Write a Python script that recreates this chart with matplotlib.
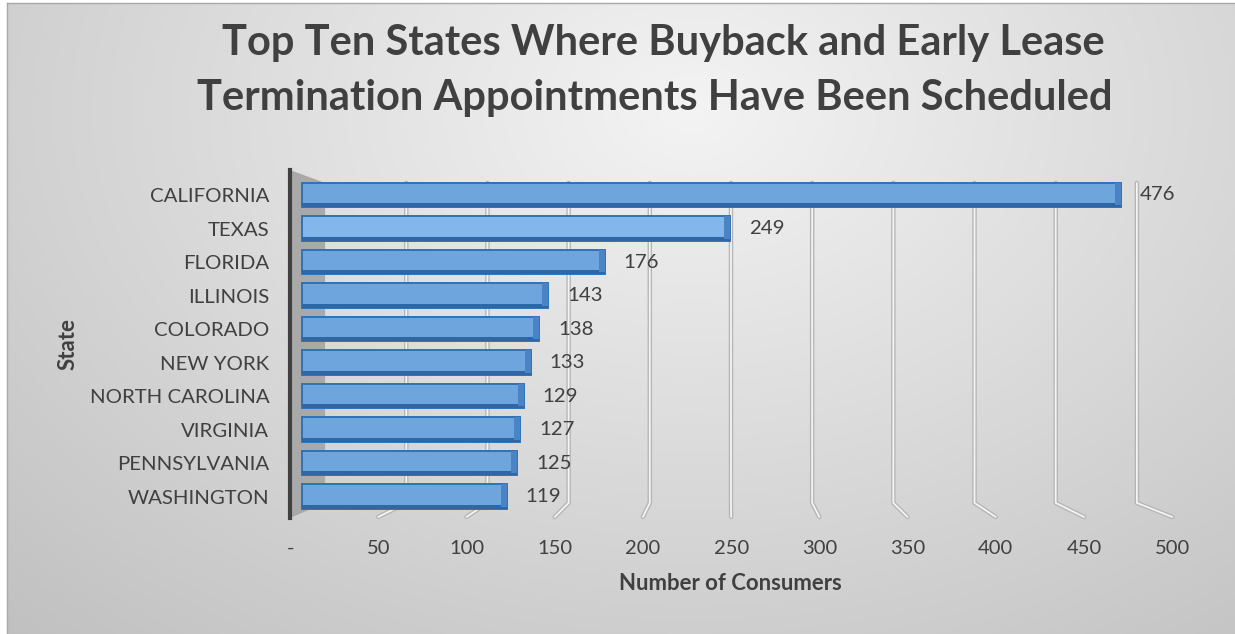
import numpy as np
import matplotlib
matplotlib.use("Agg")
import matplotlib.pyplot as plt
from matplotlib.patches import Rectangle, Polygon

plt.rcParams['font.family'] = ['Lato', 'DejaVu Sans']

states = ["CALIFORNIA", "TEXAS", "FLORIDA", "ILLINOIS", "COLORADO", "NEW YORK",
          "NORTH CAROLINA", "VIRGINIA", "PENNSYLVANIA", "WASHINGTON"]
consumers = [476, 249, 176, 143, 138, 133, 129, 127, 125, 119]
x_ticks = [0, 50, 100, 150, 200, 250, 300, 350, 400, 450, 500]
x_tick_labels = ["-", "50", "100", "150", "200", "250", "300", "350", "400", "450", "500"]
title_lines = ["Top Ten States Where Buyback and Early Lease",
               "Termination Appointments Have Been Scheduled"]

txt = "#404040"
W, H = 1235, 634

fig = plt.figure(figsize=(W / 100, H / 100), dpi=100)

# background: radial grey gradient inside a thin border
bg = fig.add_axes([0, 0, 1, 1], zorder=-5)
yy, xx = np.mgrid[0:H, 0:W]
d = np.sqrt(((xx - 690) / 900.0) ** 2 + ((yy - 110) / 640.0) ** 2)
val = np.clip(0.955 - 0.18 * d, 0, 1)
img = np.dstack([val, val, val])
img[:3, :, :] = 1.0
img[:, :7, :] = 1.0
bg.imshow(img, aspect='auto', extent=(0, W, H, 0), interpolation='bilinear')
bg.plot([7, W], [3, 3], color="#a8a8a8", lw=1)
bg.plot([7, 7], [3, H], color="#a8a8a8", lw=1)
bg.set_xlim(0, W)
bg.set_ylim(H, 0)
bg.axis('off')

ax = fig.add_axes([290 / W, 1 - 518 / H, 915 / W, 348 / H])
ax.set_facecolor('none')
ax.set_xlim(-7, 525)
ax.set_ylim(9.64, -0.746)


# simple 3D look: back wall and floor front mapped into front-plane units
def back(v):
    return 13.4 + 0.944 * v


def front(v):
    return -7 + 1.026 * v


wall_top, wall_bot, floor_y = -0.36, 9.19, 9.61

# left side wall
ax.add_patch(Polygon([(front(0), -0.746), (back(0), wall_top), (back(0), wall_bot),
                      (front(0), 9.64)], closed=True, fc="#a9a9a9", ec="none", zorder=1))

# gridlines on back wall and floor
for v in x_ticks[1:]:
    xs = [back(v), back(v), front(v)]
    ys = [wall_top, wall_bot, floor_y]
    ax.plot(xs, ys, color="#b5b5b5", lw=3.2, solid_capstyle='round', zorder=2, clip_on=False)
    ax.plot(xs, ys, color="#f4f4f4", lw=1.3, solid_capstyle='round', zorder=2.1, clip_on=False)

# bars
h = 0.72
for i, v in enumerate(consumers):
    face = "#83b7ec" if i == 1 else "#6ea5dd"
    ax.add_patch(Rectangle((0, i - h / 2), v, h, fc=face, ec="#2f72b8", lw=1.4, zorder=5))
    ax.add_patch(Rectangle((0, i + h / 2 - 0.12), v, 0.12, fc="#2f66a3", ec="none", zorder=6))
    ax.add_patch(Rectangle((v - 3.5, i - h / 2), 3.5, h - 0.05, fc="#4a84c4", ec="none", zorder=6))
    ax.text(v + 11, i, str(v), ha='left', va='center', fontsize=14.7, color=txt, zorder=7)

ax.set_yticks(range(len(states)))
ax.set_yticklabels(states, fontsize=14.7, color=txt)
ax.set_xticks([front(v) for v in x_ticks])
ax.set_xticklabels(x_tick_labels, fontsize=14.5, color=txt)
ax.tick_params(axis='y', length=0, pad=15)
ax.tick_params(axis='x', length=0, pad=16)

for s in ['top', 'right', 'bottom']:
    ax.spines[s].set_visible(False)
ax.spines['left'].set_color("#404040")
ax.spines['left'].set_linewidth(3)

fig.text(663 / W, 1 - 55 / H, title_lines[0], ha='center', va='baseline',
         fontsize=30, fontweight='bold', color=txt)
fig.text(655 / W, 1 - 110 / H, title_lines[1], ha='center', va='baseline',
         fontsize=30, fontweight='bold', color=txt)
fig.text(730 / W, 1 - 583 / H, "Number of Consumers", ha='center', va='center',
         fontsize=15.9, fontweight='bold', color=txt)
fig.text(68 / W, 1 - 344 / H, "State", ha='center', va='center', rotation=90,
         fontsize=16, fontweight='bold', color=txt)

fig.savefig("out.png", dpi=100)
